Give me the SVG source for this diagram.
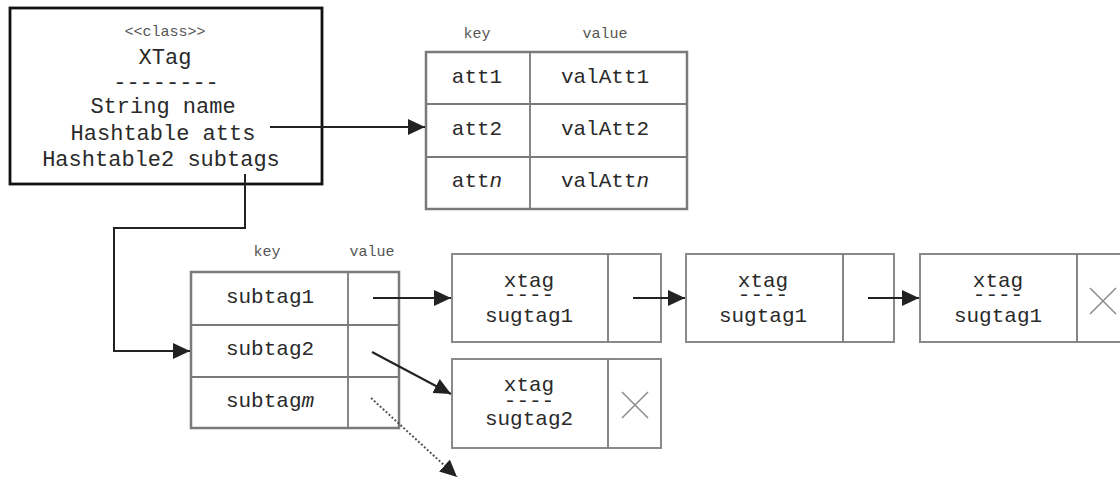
<svg xmlns="http://www.w3.org/2000/svg" width="1120" height="477" viewBox="0 0 1120 477">
<style>
.t{font-family:"Liberation Mono","Courier New",monospace;fill:#2a2a2a;text-anchor:middle}
.big{font-size:22px}
.mid{font-size:21px}
.sm{font-size:15px;fill:#555}
.tbl{fill:#fff;stroke:#7a7a7a;stroke-width:2.5}
.grid{stroke:#7a7a7a;stroke-width:1.8;fill:none}
.nd{fill:#fff;stroke:#8a8a8a;stroke-width:2}
.cross{stroke:#8a8a8a;stroke-width:1.5;fill:none}
.arr{stroke:#222;stroke-width:2;fill:none;marker-end:url(#ah)}
.dot{stroke:#555;stroke-width:2;fill:none;stroke-dasharray:2 2;marker-end:url(#ah)}
</style>
<defs>
<marker id="ah" markerUnits="userSpaceOnUse" markerWidth="18" markerHeight="16" refX="17" refY="8" orient="auto" viewBox="0 0 18 16">
<path d="M0,0 L17,8 L0,16 z" fill="#222"/>
</marker>
</defs>
<rect width="1120" height="477" fill="#fff"/>

<g id="class-xtag">
<rect x="10" y="8" width="312" height="176" fill="#fff" stroke="#111" stroke-width="2.8"/>
<text class="t sm" x="165" y="36">&lt;&lt;class&gt;&gt;</text>
<text class="t big" x="165" y="64">XTag</text>
<text class="t big" x="166" y="89">--------</text>
<text class="t big" x="163" y="113">String name</text>
<text class="t big" x="163" y="140">Hashtable atts</text>
<text class="t big" x="161" y="166">Hashtable2 subtags</text>
</g>

<g id="atts-table">
<text class="t sm" x="477" y="38">key</text>
<text class="t sm" x="605" y="38">value</text>
<rect class="tbl" x="426" y="52" width="261" height="157"/>
<path class="grid" d="M530,52 V209 M426,104 H687 M426,157 H687"/>
<text class="t mid" x="477" y="83">att1</text>
<text class="t mid" x="605" y="83">valAtt1</text>
<text class="t mid" x="477" y="135">att2</text>
<text class="t mid" x="605" y="135">valAtt2</text>
<text class="t mid" x="477" y="187">att<tspan font-style="italic">n</tspan></text>
<text class="t mid" x="605" y="187">valAtt<tspan font-style="italic">n</tspan></text>
</g>

<g id="subtags-table">
<text class="t sm" x="267" y="256">key</text>
<text class="t sm" x="372" y="256">value</text>
<rect class="tbl" x="191" y="272" width="208" height="156"/>
<path class="grid" d="M348,272 V428 M191,325 H399 M191,377 H399"/>
<text class="t mid" x="270" y="303">subtag1</text>
<text class="t mid" x="270" y="355">subtag2</text>
<text class="t mid" x="270" y="407">subtag<tspan font-style="italic">m</tspan></text>
</g>

<g id="node-1">
<rect class="nd" x="452" y="254" width="209" height="88"/>
<path class="grid" d="M608,254 V342"/>
<text class="t mid" x="529" y="287">xtag<tspan x="529" dy="14">----</tspan><tspan x="529" dy="21">sugtag1</tspan></text>
</g>

<g id="node-2">
<rect class="nd" x="452" y="359" width="209" height="89"/>
<path class="grid" d="M608,359 V448"/>
<text class="t mid" x="529" y="391">xtag<tspan x="529" dy="16">----</tspan><tspan x="529" dy="18">sugtag2</tspan></text>
<path class="cross" d="M622,392 L648,418 M648,392 L622,418"/>
</g>

<g id="node-3">
<rect class="nd" x="686" y="254" width="208" height="88"/>
<path class="grid" d="M843,254 V342"/>
<text class="t mid" x="763" y="287">xtag<tspan x="763" dy="14">----</tspan><tspan x="763" dy="21">sugtag1</tspan></text>
</g>

<g id="node-4">
<rect class="nd" x="920" y="254" width="210" height="88"/>
<path class="grid" d="M1077,254 V342"/>
<text class="t mid" x="998" y="287">xtag<tspan x="998" dy="14">----</tspan><tspan x="998" dy="21">sugtag1</tspan></text>
<path class="cross" d="M1090,288 L1116,314 M1116,288 L1090,314"/>
</g>

<g id="connectors">
<path class="arr" d="M270,127 H425"/>
<path class="arr" d="M245,174 V228 H114 V351 H190"/>
<path class="arr" d="M373,298 H451"/>
<path class="arr" d="M372,352 L451,394"/>
<path class="arr" d="M633,298 H685"/>
<path class="arr" d="M868,298 H919"/>
<path class="dot" d="M371,398 L457,477"/>
</g>
</svg>
